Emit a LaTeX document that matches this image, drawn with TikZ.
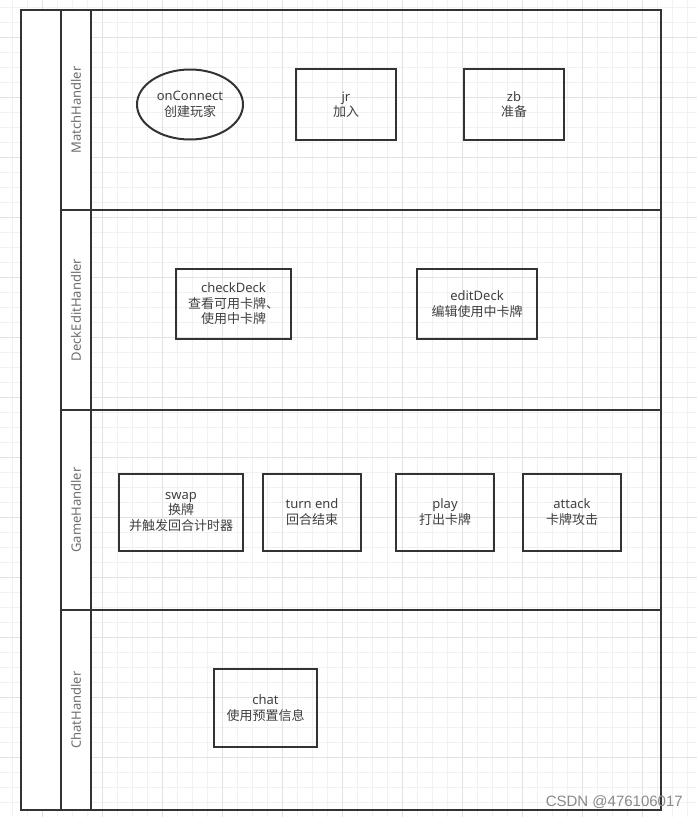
\documentclass[tikz,border=0pt]{standalone}
\usepackage{fontspec}
\setmainfont{Noto Sans}
\newfontfamily\cjk{Noto Sans CJK SC}
\newfontfamily\wmfont{Liberation Sans}
\usetikzlibrary{shapes.geometric}
\definecolor{gridminor}{HTML}{F1F1F1}
\definecolor{gridmajor}{HTML}{E2E2E2}
\definecolor{edge}{HTML}{333333}
\definecolor{txt}{HTML}{404040}
\definecolor{lanetxt}{HTML}{6E6E6E}
\definecolor{wm}{HTML}{8A8A8A}
\tikzset{
  boxnode/.style={draw=edge, line width=2pt, fill=none, text=txt, align=center,
    inner sep=0pt, font=\fontsize{13}{15.5}\selectfont},
  ellnode/.style={boxnode, ellipse},
  lanelabel/.style={text=lanetxt, rotate=90, font=\fontsize{13}{15}\selectfont, inner sep=0pt},
  frame/.style={draw=edge, line width=2pt},
}
\begin{document}
\begin{tikzpicture}[x=1pt,y=-1pt]
\useasboundingbox (0,0) rectangle (697,817);
\fill[white] (0,0) rectangle (697,817);
% grid
\foreach \i in {0,...,45} \draw[gridminor, line width=1pt] (12+15*\i,0) -- (12+15*\i,817);
\foreach \i in {0,...,54} \draw[gridminor, line width=1pt] (0,7+15*\i) -- (697,7+15*\i);
\foreach \i in {0,...,11} \draw[gridmajor, line width=1pt] (42+60*\i,0) -- (42+60*\i,817);
\foreach \i in {0,...,13} \draw[gridmajor, line width=1pt] (0,37+60*\i) -- (697,37+60*\i);
% pool
\fill[white] (21,10) rectangle (91,810);
\draw[frame] (21,10) rectangle (661,810);
\draw[frame] (61,10) -- (61,810);
\draw[frame] (91,10) -- (91,810);
\draw[frame] (61,210) -- (661,210);
\draw[frame] (61,410) -- (661,410);
\draw[frame] (61,610) -- (661,610);
% lane labels
\node[lanelabel] (l1) at (76,110) {MatchHandler};
\node[lanelabel] (l2) at (76,310) {DeckEditHandler};
\node[lanelabel] (l3) at (76,510) {GameHandler};
\node[lanelabel] (l4) at (76,710) {ChatHandler};
% nodes
\node[ellnode, minimum width=106pt, minimum height=70pt] (onc) at (190,104.5) {onConnect\\{\cjk 创建玩家}};
\node[boxnode, minimum width=100pt, minimum height=71pt] (jr) at (346,104.5) {jr\\{\cjk 加入}};
\node[boxnode, minimum width=100pt, minimum height=71pt] (zb) at (514,104.5) {zb\\{\cjk 准备}};
\node[boxnode, minimum width=115pt, minimum height=70pt] (cd) at (233.5,304) {checkDeck\\{\cjk 查看可用卡牌、}\\{\cjk 使用中卡牌}};
\node[boxnode, minimum width=120pt, minimum height=70pt] (ed) at (477,304) {editDeck\\{\cjk 编辑使用中卡牌}};
\node[boxnode, minimum width=124pt, minimum height=77pt] (sw) at (181,512) {swap\\{\cjk 换牌}\\{\cjk 并触发回合计时器}};
\node[boxnode, minimum width=98pt, minimum height=77pt] (te) at (312,512) {turn end\\{\cjk 回合结束}};
\node[boxnode, minimum width=98pt, minimum height=77pt] (pl) at (445,512) {play\\{\cjk 打出卡牌}};
\node[boxnode, minimum width=98pt, minimum height=77pt] (at) at (572,512) {attack\\{\cjk 卡牌攻击}};
\node[boxnode, minimum width=103pt, minimum height=78pt] (ch) at (265.5,708) {chat\\{\cjk 使用预置信息}};
% watermark
\node[text=wm, anchor=east, inner sep=0pt, font=\wmfont\fontsize{15}{17}\selectfont] (wmk) at (683,802) {CSDN @476106017};
\end{tikzpicture}
\end{document}
